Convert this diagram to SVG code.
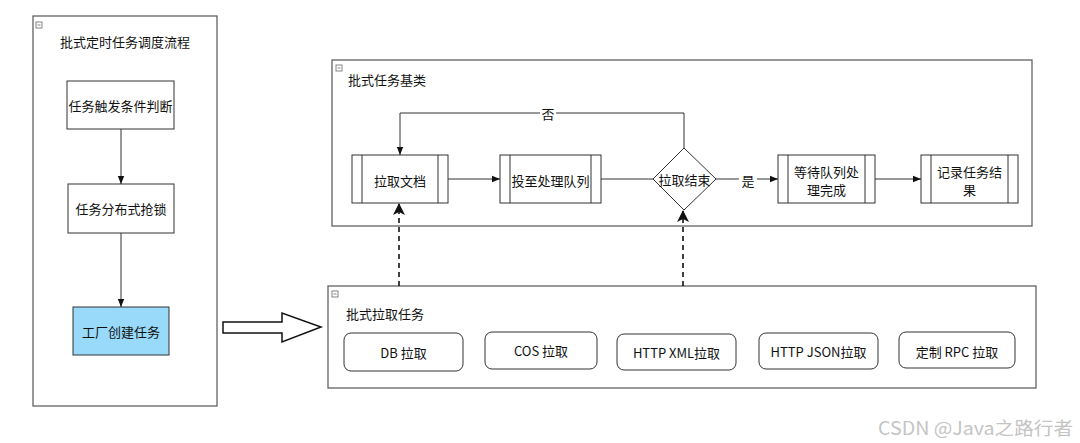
<svg xmlns="http://www.w3.org/2000/svg" width="1080" height="443" viewBox="0 0 1080 443">
  <style>
    text { font-family: "Noto Sans CJK SC", "Microsoft YaHei", sans-serif; font-size: 13px; fill: #111; }
    .c { text-anchor: middle; dominant-baseline: central; }
    .frame { fill: #fff; stroke: #555; stroke-width: 1.2; }
    .box { fill: #fff; stroke: #333; stroke-width: 1; }
    .bar { stroke: #333; stroke-width: 1; }
    .edge { fill: none; stroke: #333; stroke-width: 1; }
    .dash { fill: none; stroke: #111; stroke-width: 1.6; stroke-dasharray: 5 4; }
    .icon { fill: #fff; stroke: #666; stroke-width: 0.8; }
  </style>
  <defs>
    <marker id="arr" viewBox="0 0 10 10" refX="10" refY="5" markerWidth="8" markerHeight="8" markerUnits="userSpaceOnUse" orient="auto">
      <path d="M0,1 L10,5 L0,9 Z" fill="#111"/>
    </marker>
    <marker id="arrBig" viewBox="0 0 12 12" refX="11" refY="6" markerWidth="12" markerHeight="12" markerUnits="userSpaceOnUse" orient="auto">
      <path d="M0,0 L12,6 L0,12 L3,6 Z" fill="#111"/>
    </marker>
  </defs>
  <rect width="1080" height="443" fill="#fff"/>

  <!-- scheduling flow container -->
  <g id="schedule-flow">
    <rect class="frame" x="33" y="16" width="184" height="390"/>
    <rect class="icon" x="36" y="22" width="6" height="6"/>
    <line x1="37.5" y1="25" x2="40.5" y2="25" stroke="#666" stroke-width="0.8"/>
    <text x="125" y="41" class="c">批式定时任务调度流程</text>
  </g>
  <g id="trigger">
    <rect class="box" x="67" y="81" width="107" height="48"/>
    <text x="120.5" y="105" class="c">任务触发条件判断</text>
  </g>
  <g id="lock">
    <rect class="box" x="68" y="184" width="106" height="49"/>
    <text x="121" y="208.5" class="c">任务分布式抢锁</text>
  </g>
  <g id="factory">
    <rect x="73" y="307" width="96" height="48" fill="#99d9f9" stroke="#333" stroke-width="1"/>
    <text x="121" y="331" class="c">工厂创建任务</text>
  </g>

  <!-- hollow transfer arrow -->
  <g id="transfer-arrow">
    <path d="M223,322 L282,322 L282,313 L321,327 L282,342 L282,333 L223,333 Z" fill="#fff" stroke="#111" stroke-width="1.5" stroke-linejoin="miter"/>
  </g>

  <!-- base task class container -->
  <g id="base-task">
    <rect class="frame" x="332" y="60" width="700" height="166"/>
    <rect class="icon" x="336" y="65" width="6" height="6"/>
    <line x1="337.5" y1="68" x2="340.5" y2="68" stroke="#666" stroke-width="0.8"/>
    <text x="348" y="79" dominant-baseline="central">批式任务基类</text>
  </g>
  <g id="fetch-doc">
    <rect class="box" x="352" y="155" width="96" height="48"/>
    <line class="bar" x1="362" y1="155" x2="362" y2="203"/>
    <line class="bar" x1="438" y1="155" x2="438" y2="203"/>
    <text x="400" y="180" class="c">拉取文档</text>
  </g>
  <g id="enqueue">
    <rect class="box" x="500" y="155" width="101" height="48"/>
    <line class="bar" x1="510" y1="155" x2="510" y2="203"/>
    <line class="bar" x1="591" y1="155" x2="591" y2="203"/>
    <text x="550.5" y="180" class="c">投至处理队列</text>
  </g>
  <g id="fetch-done">
    <path class="box" d="M684,148 L716,179 L684,210 L653,179 Z"/>
    <text x="684.5" y="179" class="c">拉取结束</text>
  </g>
  <g id="wait-queue">
    <rect class="box" x="778" y="155" width="97" height="48"/>
    <line class="bar" x1="788" y1="155" x2="788" y2="203"/>
    <line class="bar" x1="865" y1="155" x2="865" y2="203"/>
    <text x="826.5" y="171" class="c">等待队列处</text>
    <text x="826.5" y="189" class="c">理完成</text>
  </g>
  <g id="record-result">
    <rect class="box" x="921" y="155" width="97" height="48"/>
    <line class="bar" x1="931" y1="155" x2="931" y2="203"/>
    <line class="bar" x1="1008" y1="155" x2="1008" y2="203"/>
    <text x="969.5" y="171" class="c">记录任务结</text>
    <text x="969.5" y="189" class="c">果</text>
  </g>

  <!-- batch pull task container -->
  <g id="pull-tasks">
    <rect class="frame" x="328" y="286" width="708" height="102"/>
    <rect class="icon" x="332" y="291" width="6" height="6"/>
    <line x1="333.5" y1="294" x2="336.5" y2="294" stroke="#666" stroke-width="0.8"/>
    <text x="346" y="313" dominant-baseline="central">批式拉取任务</text>
  </g>
  <g id="pull-db">
    <rect class="box" x="344" y="333" width="119" height="38" rx="7"/>
    <text x="403.5" y="352" class="c">DB 拉取</text>
  </g>
  <g id="pull-cos">
    <rect class="box" x="485" y="332" width="112" height="37" rx="7"/>
    <text x="541" y="350.5" class="c">COS 拉取</text>
  </g>
  <g id="pull-http-xml">
    <rect class="box" x="617" y="334" width="119" height="36" rx="7"/>
    <text x="676.5" y="352" class="c">HTTP XML拉取</text>
  </g>
  <g id="pull-http-json">
    <rect class="box" x="759" y="333" width="119" height="36" rx="7"/>
    <text x="818.5" y="351" class="c">HTTP JSON拉取</text>
  </g>
  <g id="pull-rpc">
    <rect class="box" x="899" y="332" width="116" height="36" rx="7"/>
    <text x="957" y="351" class="c">定制 RPC 拉取</text>
  </g>

  <!-- connectors -->
  <g id="connectors">
    <line class="edge" x1="121" y1="129" x2="121" y2="184" marker-end="url(#arr)"/>
    <line class="edge" x1="121" y1="233" x2="121" y2="307" marker-end="url(#arr)"/>
    <line class="edge" x1="448" y1="179" x2="500" y2="179" marker-end="url(#arr)"/>
    <line class="edge" x1="601" y1="179" x2="653" y2="179"/>
    <path class="edge" d="M684,148 L684,113 L400,113 L400,155" marker-end="url(#arr)"/>
    <rect x="540" y="105" width="16" height="16" fill="#fff"/>
    <text x="548" y="113" class="c">否</text>
    <line class="edge" x1="716" y1="179" x2="778" y2="179" marker-end="url(#arr)"/>
    <rect x="739" y="172" width="18" height="15" fill="#fff"/>
    <text x="748" y="180" class="c">是</text>
    <line class="edge" x1="875" y1="179" x2="921" y2="179" marker-end="url(#arr)"/>
    <line class="dash" x1="399" y1="286" x2="399" y2="204" marker-end="url(#arrBig)"/>
    <line class="dash" x1="683" y1="286" x2="683" y2="211" marker-end="url(#arrBig)"/>
  </g>

  <text x="878" y="427" dominant-baseline="central" textLength="195" lengthAdjust="spacingAndGlyphs" style="font-size:18px; fill:#c4c4c4;">CSDN @Java之路行者</text>
</svg>
